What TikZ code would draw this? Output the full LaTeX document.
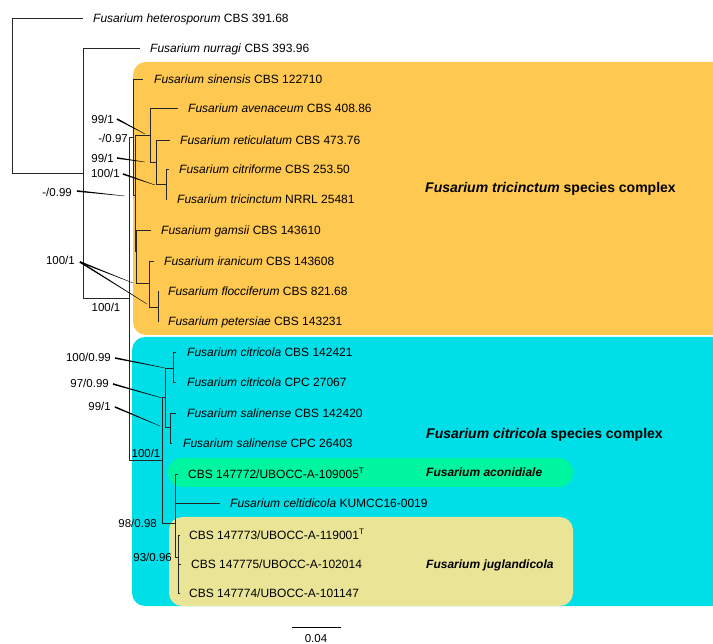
\documentclass[tikz,border=0pt]{standalone}
\usepackage{fontspec}
\setmainfont{Liberation Sans}
\usetikzlibrary{calc}
\definecolor{boxOrange}{RGB}{255,200,80}
\definecolor{boxCyan}{RGB}{0,222,232}
\definecolor{boxMint}{RGB}{0,245,160}
\definecolor{boxKhaki}{RGB}{234,228,150}
\newcommand{\taperline}[2]{\fill ($(#1)!0.8pt!90:(#2)$) -- ($(#1)!0.8pt!-90:(#2)$) -- ($(#2)!0.15pt!90:(#1)$) -- ($(#2)!0.15pt!-90:(#1)$) -- cycle;}
\tikzset{
 spname/.style={anchor=west, inner sep=0pt, font=\fontsize{12}{14}\selectfont, text height=8.6pt, text depth=0pt},
 suplab/.style={inner sep=0pt, font=\fontsize{11.5}{13}\selectfont, text height=8.2pt, text depth=0pt},
 cladelab/.style={anchor=west, inner sep=0pt, font=\bfseries\fontsize{14}{16}\selectfont, text height=10pt, text depth=0pt},
 sublab/.style={anchor=west, inner sep=0pt, font=\bfseries\fontsize{12}{14}\selectfont, text height=8.6pt, text depth=0pt},
 treeline/.style={line width=0.8pt, black!85},
}
\begin{document}
\begin{tikzpicture}[x=1pt,y=-1pt]
\useasboundingbox (0,0) rectangle (713,644);
\clip (0,0) rectangle (713,644);
% coloured boxes
\fill[boxOrange, rounded corners=13pt] (133,62) rectangle (740,335);
\fill[boxCyan, rounded corners=13pt] (132,337) rectangle (740,606);
\fill[boxMint, rounded corners=14pt] (168,458) rectangle (573,487);
\fill[boxKhaki, rounded corners=13pt] (169,517) rectangle (573,606);

% internal nodes
\coordinate (R) at (12,95);
\coordinate (N1) at (83,173);
\coordinate (N2) at (129,298);
\coordinate (T) at (133,137);
\coordinate (X) at (135,195);
\coordinate (A) at (150,135);
\coordinate (B) at (156,162);
\coordinate (C) at (166,184);
\coordinate (G) at (136,251);
\coordinate (I) at (149,283);
\coordinate (F) at (158,307);
\coordinate (K) at (162,460);
\coordinate (D) at (165,397);
\coordinate (H) at (173,368);
\coordinate (S) at (170,427);
\coordinate (E) at (175,523);
\coordinate (J) at (178,557);
% tips
\coordinate (t1) at (83,18);
\coordinate (t2) at (140,48);
\coordinate (t3) at (143,79);
\coordinate (t4) at (178,108);
\coordinate (t5) at (170,140);
\coordinate (t6) at (169,169);
\coordinate (t7) at (167,199);
\coordinate (t8) at (151,230);
\coordinate (t9) at (154,261);
\coordinate (t10) at (159,291);
\coordinate (t11) at (159,321);
\coordinate (t12) at (176,352);
\coordinate (t13) at (176,382);
\coordinate (t14) at (176,413);
\coordinate (t15) at (172,443);
\coordinate (t16) at (178,474);
\coordinate (t17) at (220,503);
\coordinate (t18) at (180,535);
\coordinate (t19) at (181,564);
\coordinate (t20) at (180,593);

% branches
\draw[treeline] (R) |- (t1) (R) |- (N1);
\draw[treeline] (N1) |- (t2) (N1) |- (N2);
\draw[treeline] (N2) |- (T) (N2) |- (K);
\draw[treeline] (T) |- (t3) (T) |- (X);
\draw[treeline] (X) |- (A) (X) |- (G);
\draw[treeline] (A) |- (t4) (A) |- (B);
\draw[treeline] (B) |- (t5) (B) |- (C);
\draw[treeline] (C) |- (t6) (C) |- (t7);
\draw[treeline] (G) |- (t8) (G) |- (I);
\draw[treeline] (I) |- (t9) (I) |- (F);
\draw[treeline] (F) |- (t10) (F) |- (t11);
\draw[treeline] (K) |- (D) (K) |- (E);
\draw[treeline] (D) |- (H) (D) |- (S);
\draw[treeline] (H) |- (t12) (H) |- (t13);
\draw[treeline] (S) |- (t14) (S) |- (t15);
\draw[treeline] (E) |- (t16) (E) |- (t17) (E) |- (J);
\draw[treeline] (J) |- (t18) (J) |- (t19) (J) |- (t20);

% leaf names
\node[spname] (l1) at (93,18) {\textit{Fusarium heterosporum} CBS 391.68};
\node[spname] (l2) at (150,48) {\textit{Fusarium nurragi} CBS 393.96};
\node[spname] (l3) at (154,79) {\textit{Fusarium sinensis} CBS 122710};
\node[spname] (l4) at (188,108) {\textit{Fusarium avenaceum} CBS 408.86};
\node[spname] (l5) at (180,140) {\textit{Fusarium reticulatum} CBS 473.76};
\node[spname] (l6) at (179,169) {\textit{Fusarium citriforme} CBS 253.50};
\node[spname] (l7) at (177,199) {\textit{Fusarium tricinctum} NRRL 25481};
\node[spname] (l8) at (161,230) {\textit{Fusarium gamsii} CBS 143610};
\node[spname] (l9) at (164,261) {\textit{Fusarium iranicum} CBS 143608};
\node[spname] (l10) at (168,291) {\textit{Fusarium flocciferum} CBS 821.68};
\node[spname] (l11) at (168,321) {\textit{Fusarium petersiae} CBS 143231};
\node[spname] (l12) at (187,352) {\textit{Fusarium citricola} CBS 142421};
\node[spname] (l13) at (187,382) {\textit{Fusarium citricola} CPC 27067};
\node[spname] (l14) at (187,413) {\textit{Fusarium salinense} CBS 142420};
\node[spname] (l15) at (183,443) {\textit{Fusarium salinense} CPC 26403};
\node[spname] (l16) at (188,474) {CBS 147772/UBOCC-A-109005\textsuperscript{T}};
\node[spname] (l17) at (230,503) {\textit{Fusarium celtidicola} KUMCC16-0019};
\node[spname] (l18) at (189,535) {CBS 147773/UBOCC-A-119001\textsuperscript{T}};
\node[spname] (l19) at (191,564) {CBS 147775/UBOCC-A-102014};
\node[spname] (l20) at (189,593) {CBS 147774/UBOCC-A-101147};

% clade labels
\node[cladelab] (c1) at (425,188) {\textit{Fusarium tricinctum} species complex};
\node[cladelab] (c2) at (426,434) {\textit{Fusarium citricola} species complex};
\node[sublab] (c3) at (426,472) {\textit{Fusarium aconidiale}};
\node[sublab] (c4) at (426,564) {\textit{Fusarium juglandicola}};

% support values with pointers
\node[suplab, anchor=east] (s1) at (114,119) {99/1};
\coordinate (s1a) at (117,119); \coordinate (s1b) at (145,134);
\node[suplab, anchor=east] (s3) at (114,158) {99/1};
\coordinate (s3a) at (117,158); \coordinate (s3b) at (145,162);
\node[suplab, anchor=east] (s4) at (120,173) {100/1};
\coordinate (s4a) at (123,174); \coordinate (s4b) at (155,185);
\node[suplab, anchor=east] (s5) at (72,192) {-/0.99};
\coordinate (s5a) at (77,191); \coordinate (s5b) at (125,196);
\node[suplab, anchor=east] (s6) at (75,260) {100/1};
\coordinate (s6a) at (80,262); \coordinate (s6b) at (133,283); \coordinate (s6c) at (147,304);
\node[suplab, anchor=east] (s8) at (111,357) {100/0.99};
\coordinate (s8a) at (115,358); \coordinate (s8b) at (165,368);
\node[suplab, anchor=east] (s9) at (109,383) {97/0.99};
\coordinate (s9a) at (113,384); \coordinate (s9b) at (162,398);
\node[suplab, anchor=east] (s10) at (111,406) {99/1};
\coordinate (s10a) at (115,407); \coordinate (s10b) at (160,426);
\taperline{s1a}{s1b}
\taperline{s3a}{s3b}
\taperline{s4a}{s4b}
\taperline{s5a}{s5b}
\taperline{s6a}{s6b}
\taperline{s6a}{s6c}
\taperline{s8a}{s8b}
\taperline{s9a}{s9b}
\taperline{s10a}{s10b}

% support values without pointers
\node[suplab, anchor=east] (s2) at (128,138) {-/0.97};
\node[suplab] (s7) at (106,307) {100/1};
\node[suplab] (s11) at (146,453) {100/1};
\node[suplab, anchor=east] (s12) at (157,523) {98/0.98};
\node[suplab, anchor=east] (s13) at (172,557) {93/0.96};

% scale bar
\coordinate (sb1) at (292,627);
\coordinate (sb2) at (341,627);
\draw[line width=1pt] (sb1) -- (sb2);
\node[suplab] (sbl) at (316,638) {0.04};
\end{tikzpicture}
\end{document}
